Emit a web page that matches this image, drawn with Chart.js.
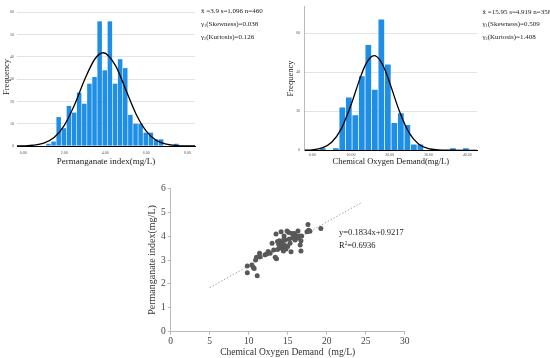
<!DOCTYPE html>
<html><head><meta charset="utf-8">
<script src="https://cdn.jsdelivr.net/npm/chart.js@4.4.1/dist/chart.umd.min.js"></script>
<style>
html,body{margin:0;padding:0;background:#fff;}
body{width:550px;height:358px;position:relative;overflow:hidden;}
canvas{position:absolute;}
.txt{position:absolute;font-family:'Liberation Serif','DejaVu Serif',serif;color:#222;white-space:nowrap;line-height:1;}
.txt sub{font-size:60%;vertical-align:-0.25em;line-height:0;}
.txt sup{font-size:60%;vertical-align:0.5em;line-height:0;}
</style></head><body>
<canvas id="h1" width="275" height="170" style="left:0;top:0"></canvas>
<canvas id="h2" width="275" height="170" style="left:275px;top:0"></canvas>
<canvas id="sc" width="290" height="183" style="left:130px;top:175px"></canvas>

<div class="txt" style="left:201px;top:8px;font-size:7px">x̄ =3.9 s=1.096 n=460</div>
<div class="txt" style="left:201px;top:20.5px;font-size:7px">γ<sub>1</sub>(Skewness)=0.038</div>
<div class="txt" style="left:201px;top:33.5px;font-size:7px">γ<sub>2</sub>(Kurtosis)=0.126</div>

<div class="txt" style="left:482.5px;top:8.5px;font-size:7px">x̄ =15.95 s=4.919 n=358</div>
<div class="txt" style="left:482.5px;top:21px;font-size:7px">γ<sub>1</sub>(Skewness)=0.509</div>
<div class="txt" style="left:482.5px;top:33.5px;font-size:7px">γ<sub>2</sub>(Kurtosis)=1.408</div>

<div class="txt" style="left:339px;top:227.5px;font-size:8.5px">y=0.1834x+0.9217</div>
<div class="txt" style="left:339px;top:241px;font-size:8.5px">R<sup>2</sup>=0.6936</div>

<script>
// ---------- Histogram 1: Permanganate index ----------
const pmBinMid = [1.225,1.475,1.725,1.975,2.225,2.475,2.725,2.975,3.225,3.475,3.725,3.975,4.225,4.475,4.725,4.975,5.225,5.475,5.725,5.975,6.225,6.475,6.725,6.975,7.225,7.475];
const pmCounts = [1,2,13,8,18,15,24,19,28,31,56,34,56,28,39,35,14,10,10,6,6,3,3,0,0,1];
const pmCurveX = [-0.5,0,0.5,1,1.5,2,2.5,3,3.5,3.9,4.5,5,5.5,6,6.5,7,7.5,8,8.5];
const pmCurveY = [0,0.07,0.35,1.3,3.8,9.3,18.5,30,39.2,41.9,36.1,25.3,14.4,6.7,2.5,0.8,0.2,0.04,0];
const pmTicksX = [0,2,4,6,8];
const pmTicksY = [0,10,20,30,40,50,60];

// ---------- Histogram 2: Chemical Oxygen Demand ----------
const codBinMid = [2.70,4.38,6.06,7.74,9.42,11.10,12.78,14.46,16.14,17.82,19.50,21.18,22.86,24.54,26.22,27.90,29.58,31.26,32.94,34.62,36.30,37.98,39.66];
const codCounts = [1,0,1,22,27,18,38,54,31,67,44,14,19,13,3,3,0,0,0,0,1,0,1];
const codCurveX = [-2,0,2.5,5,7.5,10,12.5,13.75,15,16,17.5,18.75,20,22.5,25,27.5,30,32.5,35,40,42.5];
const codCurveY = [0.05,0.25,1.2,4.1,11.1,23.3,37.9,43.9,47.6,48.5,46.1,41.3,34.5,20,8.9,3.1,0.8,0.2,0.03,0,0];
const codTicksX = [0,10,20,30,40];
const codTicksY = [0,20,40,60];

// ---------- Scatter: COD vs Permanganate index ----------
const scCOD = [9.82,9.82,10.41,10.6,10.7,10.88,11.0,11.09,11.39,11.47,12.1,12.5,12.75,13.0,13.2,13.4,13.5,13.56,13.7,13.85,13.94,14.0,14.15,14.2,14.28,14.36,14.45,14.53,14.58,14.7,14.79,14.92,15.0,15.13,15.2,15.3,15.43,15.55,15.64,15.77,15.85,15.94,16.06,16.19,16.32,16.4,16.49,16.6,16.7,16.7,16.79,17.47,17.6,17.68,17.85,19.25,14.5,13.7,12.3];
const scPM  = [2.75,2.47,2.79,2.69,2.64,3.0,3.11,2.34,3.28,3.14,3.22,3.36,3.28,3.7,3.42,3.11,4.09,3.05,3.44,3.65,3.81,3.51,4.18,3.6,3.72,3.46,3.38,4.0,3.63,3.84,3.46,4.21,3.57,4.15,3.88,3.7,3.35,4.11,3.92,3.97,4.11,3.84,4.03,3.91,4.21,3.95,4.0,3.63,3.38,3.81,4.0,4.18,4.49,4.25,4.2,4.32,3.86,3.77,3.25];
const trendX = [5,24.5];
const trendY = [1.84,5.41];
const scTicksX = [0,5,10,15,20,25,30];
const scTicksY = [0,1,2,3,4,5,6];

const serif = "'Liberation Serif','Times New Roman',serif";
Chart.defaults.font.family = serif;
const fixW = w => s => { s.width = w; };
const fixH = h => s => { s.height = h; };
const setTicks = arr => s => { s.ticks = arr.map(v => ({value: v})); };
const noPlug = {legend:{display:false}, tooltip:{enabled:false}};
const barBlue = '#1e8ee6';

function histogram(id, mids, counts, cx, cy, tx, ty, opt) {
  new Chart(document.getElementById(id), {
    type: 'bar',
    data: {datasets: [
      {type:'line', data: cx.map((x,i)=>({x:x, y:cy[i]})), borderColor:'#000', borderWidth:1.3,
       pointRadius:0, cubicInterpolationMode:'monotone', order:0},
      {type:'bar', data: mids.map((x,i)=>({x:x, y:counts[i]})), backgroundColor: barBlue,
       borderWidth:0, barPercentage:0.88, categoryPercentage:1, order:1}
    ]},
    options: {
      responsive:false, animation:false, plugins: noPlug,
      layout: {padding: opt.pad},
      scales: {
        x: {type:'linear', min:opt.xmin, max:opt.xmax, offset:false, afterFit: fixH(opt.xh),
            afterBuildTicks: setTicks(tx),
            grid:{display:false, offset:false, drawTicks:false}, border:{display:true, color:'#000', width:1},
            ticks:{font:{size:4}, color:'#555', padding:opt.xtkp, maxRotation:0, autoSkip:false,
                   callback: v => Number(v).toFixed(2)},
            title:{display:true, text:opt.xtitle, font:{size:opt.xts}, color:'#222', padding:{top:0, bottom:opt.xtb}}},
        y: {min:0, max:opt.ymax, afterFit: fixW(opt.yw), afterBuildTicks: setTicks(ty),
            grid:{color:'#dcdcdc', lineWidth:0.8, drawTicks:false},
            border:{display:opt.yborder, color:'#bbb'},
            ticks:{font:{size:4}, color:'#555', padding:opt.ytp},
            title:{display:true, text:'Frequency', font:{size:8.5}, color:'#222', padding:0}}
      }
    }
  });
}

histogram('h1', pmBinMid, pmCounts, pmCurveX, pmCurveY, pmTicksX, pmTicksY,
  {pad:{top:8, right:80, left:1.5, bottom:0}, xmin:-0.31, xmax:8.38, xh:24, ymax:62, yw:15.5,
   xtitle:'Permanganate index(mg/L)', xts:9, xtb:2.8, xtkp:5, yborder:false, ytp:3});

histogram('h2', codBinMid, codCounts, codCurveX, codCurveY, codTicksX, codTicksY,
  {pad:{top:6.7, right:72.7, left:11, bottom:0}, xmin:-2.07, xmax:42.6, xh:19.7, ymax:73.6, yw:18.3,
   xtitle:'Chemical Oxygen Demand(mg/L)', xts:8.5, xtb:3.5, xtkp:2, yborder:true, ytp:4});

new Chart(document.getElementById('sc'), {
  type: 'scatter',
  data: {datasets: [
    {type:'line', data: trendX.map((x,i)=>({x:x, y:trendY[i]})), borderColor:'#a0a0a0', borderWidth:1,
     borderDash:[1.5,1.8], pointRadius:0, order:1},
    {data: scCOD.map((x,i)=>({x:x, y:scPM[i]})), backgroundColor:'#585858', borderWidth:0,
     pointRadius:2.5, order:0}
  ]},
  options: {
    responsive:false, animation:false, plugins: noPlug,
    layout: {padding:{top:13.3, right:15.3, left:16, bottom:0}},
    scales: {
      x: {type:'linear', min:0, max:30, afterFit: fixH(26.3), afterBuildTicks: setTicks(scTicksX),
          grid:{display:true, drawOnChartArea:false, drawTicks:true, tickLength:3, color:'#bbb'},
          border:{display:true, color:'#bbb'},
          ticks:{font:{size:9.5}, color:'#444', padding:1, maxRotation:0, autoSkip:false},
          title:{display:true, text:'Chemical Oxygen Demand  (mg/L)', font:{size:9.5}, color:'#333', padding:{top:0, bottom:0}}},
      y: {min:0, max:6, afterFit: fixW(24.7), afterBuildTicks: setTicks(scTicksY),
          grid:{display:true, drawOnChartArea:false, drawTicks:true, tickLength:3, color:'#bbb'},
          border:{display:true, color:'#bbb'},
          ticks:{font:{size:9.5}, color:'#444', padding:2},
          title:{display:true, text:'Permanganate index(mg/L)', font:{size:10}, color:'#333', padding:0}}
    }
  }
});
</script>
</body></html>
